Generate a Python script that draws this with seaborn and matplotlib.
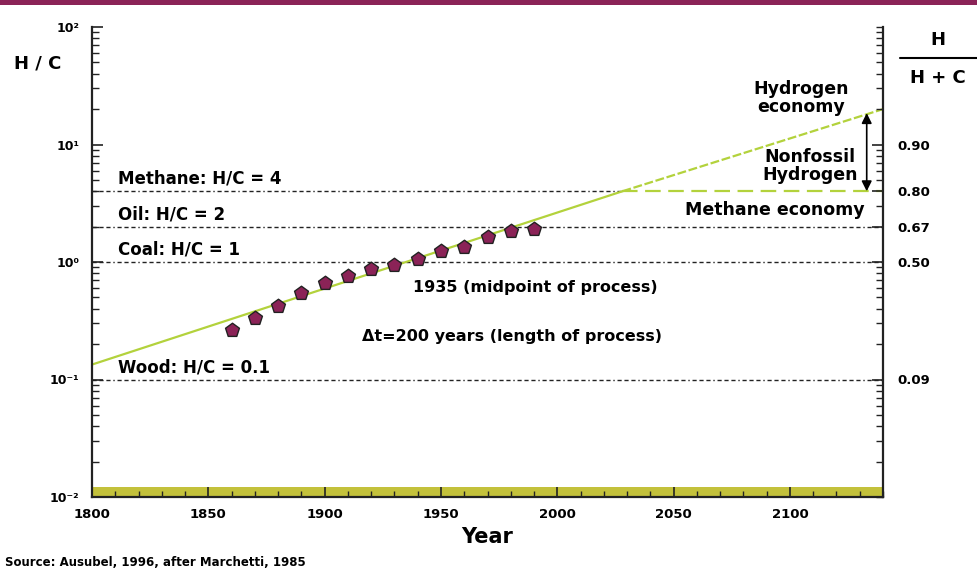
import numpy as np
import pandas as pd
import matplotlib
matplotlib.use("Agg")
import matplotlib.pyplot as plt
import seaborn as sns
from matplotlib.ticker import FixedLocator, LogLocator, MultipleLocator, NullFormatter
from matplotlib.patches import Rectangle
from matplotlib.lines import Line2D

# ---------------- data ----------------
obs_years = [1860, 1870, 1880, 1890, 1900, 1910, 1920, 1930, 1940, 1950, 1960, 1970, 1980, 1990]
obs_hc = [0.266, 0.337, 0.423, 0.54, 0.658, 0.759, 0.871, 0.937, 1.06, 1.25, 1.35, 1.63, 1.85, 1.90]

trend_years = [1800, 2028]          # fitted path (solid)
trend_hc = [0.134, 4.0]
hydrogen_years = [2028, 2140]       # hydrogen economy continuation (dashed)
hydrogen_hc = [4.0, 20.0]
methane_econ_years = [2028, 2140]   # methane economy plateau
methane_econ_hc = [4.0, 4.0]

ref_levels = [4, 2, 1, 0.1]
ref_labels = ["Methane: H/C = 4", "Oil: H/C = 2", "Coal: H/C = 1", "Wood: H/C = 0.1"]
ref_end = [2028, 2140, 2140, 2140]

left_ticks = [0.01, 0.1, 1, 10, 100]
left_ticklabels = ["10\u207b\u00b2", "10\u207b\u00b9", "10\u2070", "10\u00b9", "10\u00b2"]
right_ticks = [10, 4, 2, 1, 0.1]
right_ticklabels = ["0.90", "0.80", "0.67", "0.50", "0.09"]
x_ticks = [1800, 1850, 1900, 1950, 2000, 2050, 2100]

# ---------------- style ----------------
sns.set_theme(style="ticks")
plt.rcParams['font.family'] = ['DejaVu Sans']
plt.rcParams['font.weight'] = 'bold'
plt.rcParams['axes.labelweight'] = 'bold'
plt.rcParams['text.color'] = 'black'
plt.rcParams['axes.labelcolor'] = 'black'
plt.rcParams['xtick.labelcolor'] = 'black'
plt.rcParams['ytick.labelcolor'] = 'black'

GREEN = '#b3d23c'
PURPLE = '#8b2357'
OLIVE = '#c3c13b'
DARK = '#222222'

fig = plt.figure(figsize=(9.77, 5.73), dpi=100)
ax = fig.add_axes([92/977, 1 - 497/573, 791/977, 470/573])

# band at the bottom
ax.axhspan(0.01, 0.0122, color=OLIVE, zorder=0, lw=0)

# reference lines
for lvl, lab, xe in zip(ref_levels, ref_labels, ref_end):
    ax.hlines(lvl, 1800, xe, colors=DARK, lw=1.0,
              linestyles=[(0, (3, 2, 3, 2, 3, 2, 1, 2))], zorder=1)
    ax.annotate(lab, xy=(1811, lvl), xytext=(0, 2.5), textcoords='offset points',
                ha='left', va='bottom', fontsize=12, fontweight='bold', color='black')

# trend lines
df_tr = pd.DataFrame({"year": trend_years, "hc": trend_hc})
sns.lineplot(data=df_tr, x="year", y="hc", ax=ax, color=GREEN, linewidth=1.6, zorder=2)
df_h = pd.DataFrame({"year": hydrogen_years, "hc": hydrogen_hc})
sns.lineplot(data=df_h, x="year", y="hc", ax=ax, color=GREEN, linewidth=1.6,
             linestyle=(0, (4, 1.2)), zorder=2)
df_m = pd.DataFrame({"year": methane_econ_years, "hc": methane_econ_hc})
sns.lineplot(data=df_m, x="year", y="hc", ax=ax, color=GREEN, linewidth=1.6,
             linestyle=(0, (7, 3.4)), zorder=2)

# observations
df_obs = pd.DataFrame({"year": obs_years, "hc": obs_hc})
sns.scatterplot(data=df_obs, x="year", y="hc", ax=ax, marker='p', s=110,
                color=PURPLE, edgecolor=DARK, linewidth=1.0, zorder=3)

ax.set_yscale('log')
ax.set_xlim(1800, 2140)
ax.set_ylim(0.01, 100)

# arrow
ax.annotate('', xy=(2133, 18.5), xytext=(2133, 4.0),
            arrowprops=dict(arrowstyle='<|-|>', color='black', lw=1.2,
                            mutation_scale=15, shrinkA=0, shrinkB=0))

# annotations
ax.text(2104.6, 24.9, "Hydrogen\neconomy", ha='center', va='center',
        fontsize=12.5, fontweight='bold', linespacing=0.95)
ax.text(2108.6, 6.56, "Nonfossil\nHydrogen", ha='center', va='center',
        fontsize=12.5, fontweight='bold', linespacing=0.95)
ax.text(2093.7, 2.77, "Methane economy", ha='center', va='center',
        fontsize=12.5, fontweight='bold')
ax.text(1990.4, 0.612, "1935 (midpoint of process)", ha='center', va='center',
        fontsize=11.5, fontweight='bold')
ax.text(1980.5, 0.230, "\u0394t=200 years (length of process)", ha='center', va='center',
        fontsize=11.5, fontweight='bold')

# axes styling
ax.set_xlabel("Year", fontsize=15, fontweight='bold', labelpad=4)
ax.set_ylabel("")
ax.xaxis.set_major_locator(FixedLocator(x_ticks))
ax.xaxis.set_minor_locator(MultipleLocator(10))
ax.set_xticklabels([str(t) for t in x_ticks], fontsize=9.5, fontweight='bold')
ax.yaxis.set_major_locator(FixedLocator(left_ticks))
ax.set_yticklabels(left_ticklabels, fontsize=9, fontweight='bold')
ax.yaxis.set_minor_locator(LogLocator(base=10, subs=np.arange(2, 10)))
ax.yaxis.set_minor_formatter(NullFormatter())

ax.tick_params(axis='x', which='major', direction='in', length=7, width=1.2, color=DARK, pad=8)
ax.tick_params(axis='x', which='minor', direction='in', length=4, width=1.0, color=DARK)
ax.tick_params(axis='y', which='major', direction='in', length=8, width=1.2, color=DARK, pad=9)
ax.tick_params(axis='y', which='minor', direction='in', length=5, width=1.0, color=DARK)

for s in ['top', 'right']:
    ax.spines[s].set_visible(False)
for s in ['left', 'bottom']:
    ax.spines[s].set_color(DARK)
    ax.spines[s].set_linewidth(1.6)

ax2 = ax.twinx()
ax2.set_yscale('log')
ax2.set_ylim(0.01, 100)
ax2.yaxis.set_major_locator(FixedLocator(right_ticks))
ax2.set_yticklabels(right_ticklabels, fontsize=9.5, fontweight='bold')
ax2.yaxis.set_minor_locator(LogLocator(base=10, subs=np.arange(1, 10)))
ax2.yaxis.set_minor_formatter(NullFormatter())
ax2.tick_params(axis='y', which='major', direction='in', length=8, width=1.2, color=DARK, pad=10)
ax2.tick_params(axis='y', which='minor', direction='in', length=5, width=1.0, color=DARK)
for s in ['top', 'left', 'bottom']:
    ax2.spines[s].set_visible(False)
ax2.spines['right'].set_color(DARK)
ax2.spines['right'].set_linewidth(1.6)
ax2.grid(False)

# figure decorations
fig.add_artist(Rectangle((0, 1 - 5/573), 1, 5/573, transform=fig.transFigure,
                         color=PURPLE, lw=0))
fig.text(38/977, 1 - 63/573, "H / C", ha='center', va='center', fontsize=13, fontweight='bold')
fig.text(938/977, 1 - 40/573, "H", ha='center', va='center', fontsize=13, fontweight='bold')
fig.add_artist(Line2D([900/977, 1.0], [1 - 58/573, 1 - 58/573], transform=fig.transFigure,
                      color='black', lw=1.5))
fig.text(938/977, 1 - 78/573, "H + C", ha='center', va='center', fontsize=13, fontweight='bold')
fig.text(5/977, 1 - 563/573, "Source: Ausubel, 1996, after Marchetti, 1985", ha='left',
         va='center', fontsize=8.5, fontweight='bold')

fig.savefig("out.png", dpi=100)
